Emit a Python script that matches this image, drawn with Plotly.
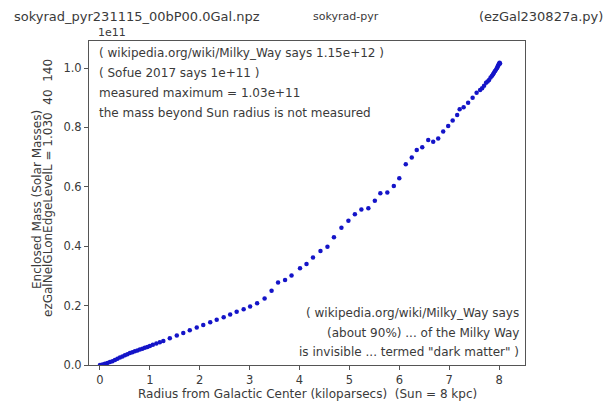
import plotly.graph_objects as go

# Radius (kpc) and enclosed mass (units of 1e11 solar masses)
radius = [0.00, 0.05, 0.10, 0.15, 0.20, 0.25, 0.30, 0.35, 0.40, 0.45, 0.50, 0.55,
          0.60, 0.65, 0.70, 0.75, 0.80, 0.85, 0.90, 0.95, 1.00, 1.06, 1.13, 1.20,
          1.27, 1.40, 1.54, 1.67, 1.80, 1.94, 2.07, 2.21, 2.34, 2.48, 2.61, 2.74,
          2.88, 3.01, 3.15, 3.30, 3.44, 3.57, 3.71, 3.84, 4.01, 4.14, 4.27, 4.42,
          4.56, 4.69, 4.84, 4.98, 5.11, 5.24, 5.38, 5.51, 5.62, 5.76, 5.89, 6.00,
          6.13, 6.25, 6.35, 6.46, 6.58, 6.68, 6.78, 6.88, 6.98, 7.07, 7.16, 7.21,
          7.29, 7.38, 7.47, 7.55, 7.62, 7.66, 7.70, 7.74, 7.77, 7.80, 7.83, 7.86,
          7.88, 7.90, 7.92, 7.94, 7.96, 7.97, 7.98, 7.99, 8.00, 8.01, 8.02]
mass = [0.000, 0.002, 0.004, 0.007, 0.010, 0.013, 0.017, 0.021, 0.025, 0.029, 0.033, 0.036,
        0.040, 0.043, 0.046, 0.049, 0.052, 0.055, 0.058, 0.061, 0.064, 0.068, 0.072, 0.077,
        0.081, 0.090, 0.099, 0.108, 0.117, 0.126, 0.135, 0.144, 0.152, 0.161, 0.170, 0.179,
        0.188, 0.197, 0.208, 0.224, 0.250, 0.278, 0.286, 0.301, 0.326, 0.340, 0.362, 0.384,
        0.398, 0.430, 0.462, 0.486, 0.508, 0.524, 0.528, 0.553, 0.578, 0.581, 0.603, 0.629,
        0.676, 0.699, 0.724, 0.733, 0.758, 0.752, 0.763, 0.786, 0.805, 0.823, 0.842, 0.861,
        0.868, 0.883, 0.900, 0.917, 0.926, 0.932, 0.940, 0.950, 0.955, 0.960, 0.968, 0.974,
        0.979, 0.985, 0.990, 0.995, 1.000, 1.004, 1.008, 1.011, 1.014, 1.018, 1.015]

x_ticks = [0, 1, 2, 3, 4, 5, 6, 7, 8]
y_ticks = [0.0, 0.2, 0.4, 0.6, 0.8, 1.0]
y_tick_labels = ["0.0", "0.2", "0.4", "0.6", "0.8", "1.0"]

top_left_lines = ["( wikipedia.org/wiki/Milky_Way says 1.15e+12 )",
                  "( Sofue 2017 says 1e+11 )",
                  "measured maximum = 1.03e+11",
                  "the mass beyond Sun radius is not measured"]
bottom_right_lines = ["( wikipedia.org/wiki/Milky_Way says",
                      "(about 90%) ... of the Milky Way",
                      "is invisible ... termed \"dark matter\" )"]

FONT = "DejaVu Sans"
TXT = "#3a3a3a"

# page body has an 8px margin; lay out in window pixels, then offset
OFF = 8
W, H = 613 - OFF, 407 - OFF
L, R, T, B = 89 - OFF, 525 - OFF, 41 - OFF, 365 - OFF


def px(x):
    return (x - OFF - L) / (R - L)


def py(y):
    return (B - (y - OFF)) / (B - T)


fig = go.Figure()
fig.add_trace(go.Scatter(x=radius, y=mass, mode="markers",
                         marker=dict(color="#1414c8", size=4.5, line=dict(width=0)),
                         showlegend=False, hoverinfo="skip"))

ann = []
ann.append(dict(text="sokyrad_pyr231115_00bP00.0Gal.npz", x=px(12), y=py(17),
                xanchor="left", yanchor="middle", font=dict(size=13)))
ann.append(dict(text="sokyrad-pyr", x=px(346), y=py(17),
                xanchor="center", yanchor="middle", font=dict(size=11)))
ann.append(dict(text="(ezGal230827a.py)", x=px(605), y=py(17),
                xanchor="right", yanchor="middle", font=dict(size=13)))
ann.append(dict(text="1e11", x=px(96), y=py(32),
                xanchor="left", yanchor="middle", font=dict(size=11)))
for i, t in enumerate(top_left_lines):
    ann.append(dict(text=t, x=px(97), y=py(53 + i * 20),
                    xanchor="left", yanchor="middle", font=dict(size=12)))
for i, t in enumerate(bottom_right_lines):
    ann.append(dict(text=t, x=px(521), y=py(313 + i * 19.5),
                    xanchor="right", yanchor="middle", font=dict(size=12)))
ann.append(dict(text="Enclosed Mass (Solar Masses)", x=px(37), y=py(200),
                xanchor="center", yanchor="middle", textangle=-90, font=dict(size=12)))
ann.append(dict(text="ezGalNelGLonEdgeLevelL = 1.030  40  140", x=px(48), y=py(188),
                xanchor="center", yanchor="middle", textangle=-90, font=dict(size=12)))
ann.append(dict(text="Radius from Galactic Center (kiloparsecs)  (Sun = 8 kpc)",
                x=px(307), y=py(394), xanchor="center", yanchor="middle",
                font=dict(size=12)))
for a in ann:
    a.update(xref="paper", yref="paper", showarrow=False)
    a["font"].update(family=FONT, color=TXT)

axis_common = dict(showline=True, linecolor="#555555", linewidth=1, mirror=True,
                   showgrid=False, zeroline=False, ticks="outside", ticklen=4,
                   tickcolor="#555555", automargin=False,
                   tickfont=dict(family=FONT, size=11.5, color=TXT))

fig.update_layout(
    width=W, height=H,
    margin=dict(l=L, r=W - R, t=T, b=H - B, pad=0),
    paper_bgcolor="white", plot_bgcolor="white",
    xaxis=dict(range=[-0.22, 8.52], tickvals=x_ticks, **axis_common),
    yaxis=dict(range=[0.0, 1.091], tickvals=y_ticks, ticktext=y_tick_labels, **axis_common),
    annotations=ann,
)

fig.write_html("out.html")
